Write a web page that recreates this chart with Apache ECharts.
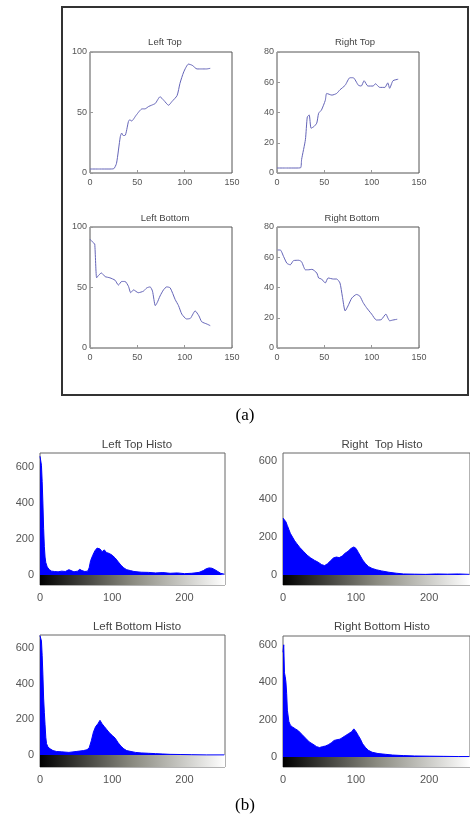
<!DOCTYPE html>
<html>
<head>
<meta charset="utf-8">
<script src="https://cdn.jsdelivr.net/npm/echarts@6/dist/echarts.min.js"></script>
<style>
html,body{margin:0;padding:0;background:#fff;}
#c{width:470px;height:816px;}
</style>
</head>
<body>
<div id="c"></div>
<script>
// ---- Data ----
const lineTitles = ['Left Top', 'Right Top', 'Left Bottom', 'Right Bottom'];
const histoTitles = ['Left Top Histo', 'Right  Top Histo', 'Left Bottom Histo', 'Right Bottom Histo'];

const leftTop = [[0,3.3],[10,3.3],[20,3.3],[25,3.5],[28,8],[32,30],[33.5,33],[35,31],[37,31],[40.6,42.5],[42,44],[44,43],[49,48],[55,53],[58,53],[62,55],[65,56],[69,57.5],[74,63],[78,60],[83,56],[86.5,59],[92,64],[95,74],[99,83.5],[104,90],[108,89],[113,86],[118,86],[123,86],[127,86.5]];
const rightTop = [[0,3.3],[10,3.3],[20,3.3],[25,3.5],[26,9],[30,22],[32,37],[34,38.4],[36,29.6],[39,30.7],[42,33],[44,39.5],[47,41.7],[51,48],[52.5,52.6],[58,51.5],[63,52.6],[66.5,55],[72,58],[77,63],[80.5,63],[86,58],[89,57.5],[92,61],[96,57.5],[101.5,57.5],[104,59],[108.5,56.6],[114,56.6],[117,59.6],[119,56],[122.5,61],[128,62]];
const leftBottom = [[0,90],[1.5,88.6],[3.5,87],[5,86],[7,58],[9,60],[12,62],[16,59],[21,58],[26.5,56],[30,52],[33.5,55],[37,55],[40.6,51],[43,45.7],[46,48],[51,45.7],[56.5,47],[60,49.7],[63.5,50.5],[66,47],[69,35],[71,37.5],[74,43],[77.6,48],[81,50.5],[84.7,49.7],[90,40],[93.5,35],[97,28],[102,24],[106,24.5],[108.7,28],[111,30.7],[115,26.6],[118,21.7],[123.5,19.8],[127,18.5]];
const rightBottom = [[0.7,64.8],[3.5,64.8],[7,60.4],[10.5,56],[14,55],[17.5,57.8],[23,58],[26,57],[30,51.7],[33,51.7],[37,52],[42,49.6],[44,46.3],[47,45.6],[51,43],[54,46.3],[59.5,45.6],[63,45.6],[66.5,43],[69,34.3],[72,24.5],[75,27.8],[79,33],[84,35.4],[87.5,34.3],[91,30],[94.5,26.7],[100,22.4],[105,18.5],[110,18.7],[115,22.4],[117,20],[119,18],[122.5,18.5],[127,19]];

const ltHisto = [[0,660],[1,655],[2,610],[3,520],[4,400],[5,260],[6,160],[7,100],[8,70],[10,45],[13,30],[16,22],[20,20],[25,18],[30,22],[35,20],[40,30],[43,25],[47,18],[52,22],[55,32],[58,25],[62,20],[66,22],[68,40],[70,80],[73,110],[76,135],[79,150],[81,160],[83,145],[86,130],[89,140],[92,125],[96,120],[100,110],[104,95],[108,75],[112,55],[116,40],[120,30],[125,25],[130,20],[140,16],[150,15],[160,12],[170,14],[180,10],[190,12],[200,8],[210,10],[220,15],[226,25],[230,35],[234,40],[238,38],[242,30],[246,20],[250,10],[255,5]];
const rtHisto = [[0,300],[2,310],[4,280],[6,260],[8,240],[10,220],[13,200],[16,180],[19,165],[23,145],[28,125],[33,105],[38,90],[43,78],[48,68],[53,55],[57,50],[61,60],[65,75],[69,90],[73,95],[77,92],[81,100],[85,115],[89,125],[93,140],[97,148],[100,140],[103,120],[106,100],[109,80],[113,60],[117,45],[122,35],[128,28],[135,22],[145,15],[155,10],[165,6],[180,5],[195,4],[210,6],[225,5],[240,6],[255,4]];
const lbHisto = [[0,670],[2,640],[3,560],[4,450],[5,320],[6,240],[7,170],[8,100],[9,65],[11,45],[14,35],[18,25],[23,20],[30,18],[40,15],[50,20],[60,25],[65,30],[68,40],[71,80],[74,130],[77,160],[80,175],[83,195],[86,175],[89,160],[92,145],[96,125],[100,110],[104,95],[108,70],[112,50],[116,35],[120,25],[126,20],[132,15],[140,12],[150,10],[160,8],[170,6],[180,4],[195,3],[210,2],[230,1],[255,1]];
const rbHisto = [[0,560],[1,600],[2,450],[3,430],[4,400],[5,340],[6,250],[8,190],[10,170],[13,160],[17,150],[21,140],[26,120],[31,100],[36,80],[41,68],[46,55],[50,50],[54,55],[58,58],[62,65],[66,75],[70,88],[74,92],[78,95],[82,105],[86,115],[90,125],[94,135],[97,150],[100,135],[103,115],[106,95],[109,70],[113,50],[117,35],[122,25],[130,18],[140,14],[150,10],[165,7],[180,5],[200,4],[220,3],[240,2],[255,2]];

const lineXTicks = [0, 50, 100, 150];
const yTicks100 = [0, 50, 100];
const yTicks80 = [0, 20, 40, 60, 80];
const histoXTicks = [0, 100, 200];
const histoYTicks = [0, 200, 400, 600];

// ---- Layout ----
const lineGrids = [
  {left: 90, top: 52, width: 142, height: 121},
  {left: 277, top: 52, width: 142, height: 121},
  {left: 90, top: 227, width: 142, height: 121},
  {left: 277, top: 227, width: 142, height: 121}
];
const histoGrids = [
  {left: 40, top: 453, width: 185, height: 132},
  {left: 283, top: 453, width: 187, height: 132},
  {left: 40, top: 635, width: 185, height: 132},
  {left: 283, top: 636, width: 187, height: 131}
];
const histoYRange = [[-55, 678], [-52, 642], [-67, 674], [-54, 647]];
const lineYMax = [100, 80, 100, 80];

const lineData = [leftTop, rightTop, leftBottom, rightBottom];
const histoData = [ltHisto, rtHisto, lbHisto, rbHisto];

const labelFont = 'Liberation Sans';
const grids = [], xAxes = [], yAxes = [], series = [];

lineGrids.forEach((g, i) => {
  grids.push(Object.assign({show: true, borderColor: '#555', borderWidth: 1, backgroundColor: '#fff'}, g));
  xAxes.push({
    type: 'value', gridIndex: i, min: 0, max: 150,
    axisLine: {show: false}, splitLine: {show: false},
    axisTick: {show: true, inside: true, length: 3, lineStyle: {color: '#999'}, customValues: lineXTicks},
    axisLabel: {customValues: lineXTicks, fontSize: 9, color: '#555', fontFamily: labelFont, margin: 5}
  });
  const yt = lineYMax[i] === 100 ? yTicks100 : yTicks80;
  yAxes.push({
    type: 'value', gridIndex: i, min: 0, max: lineYMax[i],
    axisLine: {show: false}, splitLine: {show: false},
    axisTick: {show: true, inside: true, length: 3, lineStyle: {color: '#999'}, customValues: yt},
    axisLabel: {customValues: yt, fontSize: 9, color: '#555', fontFamily: labelFont, margin: 3}
  });
  series.push({
    type: 'line', xAxisIndex: i, yAxisIndex: i, data: lineData[i],
    showSymbol: false, smooth: 0.2,
    lineStyle: {color: '#6464b8', width: 1}
  });
});

histoGrids.forEach((g, j) => {
  const i = j + 4;
  grids.push(Object.assign({show: true, borderColor: '#666', borderWidth: 1, backgroundColor: '#fff'}, g));
  xAxes.push({
    type: 'value', gridIndex: i, min: 0, max: 256,
    axisLine: {show: false}, splitLine: {show: false},
    axisTick: {show: false},
    axisLabel: {customValues: histoXTicks, fontSize: 11, color: '#555', fontFamily: labelFont, margin: 7}
  });
  yAxes.push({
    type: 'value', gridIndex: i, min: histoYRange[j][0], max: histoYRange[j][1],
    axisLine: {show: false}, splitLine: {show: false},
    axisTick: {show: false},
    axisLabel: {customValues: histoYTicks, fontSize: 11, color: '#555', fontFamily: labelFont, margin: 6}
  });
  series.push({
    type: 'line', xAxisIndex: i, yAxisIndex: i, data: histoData[j],
    showSymbol: false,
    lineStyle: {color: '#0000ff', width: 1},
    areaStyle: {color: '#0000ff', opacity: 1},
    markArea: {
      silent: true,
      itemStyle: {
        color: {type: 'linear', x: 0, y: 0, x2: 1, y2: 0,
          colorStops: [{offset: 0, color: '#000'}, {offset: 0.5, color: '#8a8a80'}, {offset: 1, color: '#ffffff'}]}
      },
      data: [[{coord: [0, histoYRange[j][0]]}, {coord: [256, 0]}]]
    }
  });
});

const titleStyle = (size) => ({fontSize: size, fontWeight: 'normal', color: '#444', fontFamily: labelFont});
const titles = [
  {text: lineTitles[0], left: 160, top: 32, textAlign: 'center', textStyle: titleStyle(9.5)},
  {text: lineTitles[1], left: 350, top: 32, textAlign: 'center', textStyle: titleStyle(9.5)},
  {text: lineTitles[2], left: 160, top: 208, textAlign: 'center', textStyle: titleStyle(9.5)},
  {text: lineTitles[3], left: 347, top: 208, textAlign: 'center', textStyle: titleStyle(9.5)},
  {text: histoTitles[0], left: 132, top: 434, textAlign: 'center', textStyle: titleStyle(11.5)},
  {text: histoTitles[1], left: 377, top: 434, textAlign: 'center', textStyle: titleStyle(11.5)},
  {text: histoTitles[2], left: 132, top: 616, textAlign: 'center', textStyle: titleStyle(11.5)},
  {text: histoTitles[3], left: 377, top: 616, textAlign: 'center', textStyle: titleStyle(11.5)},
  {text: '(a)', left: 240, top: 402, textAlign: 'center', textStyle: {fontSize: 17, fontWeight: 'normal', color: '#000', fontFamily: 'Liberation Serif'}},
  {text: '(b)', left: 240, top: 792, textAlign: 'center', textStyle: {fontSize: 17, fontWeight: 'normal', color: '#000', fontFamily: 'Liberation Serif'}}
];

const chart = echarts.init(document.getElementById('c'), null, {renderer: 'canvas'});
chart.setOption({
  backgroundColor: '#fff',
  animation: false,
  title: titles,
  grid: grids,
  xAxis: xAxes,
  yAxis: yAxes,
  series: series,
  graphic: [{
    type: 'rect', z: -10,
    shape: {x: 62, y: 7, width: 406, height: 388},
    style: {fill: 'none', stroke: '#333', lineWidth: 2}
  }]
});
</script>
</body>
</html>
